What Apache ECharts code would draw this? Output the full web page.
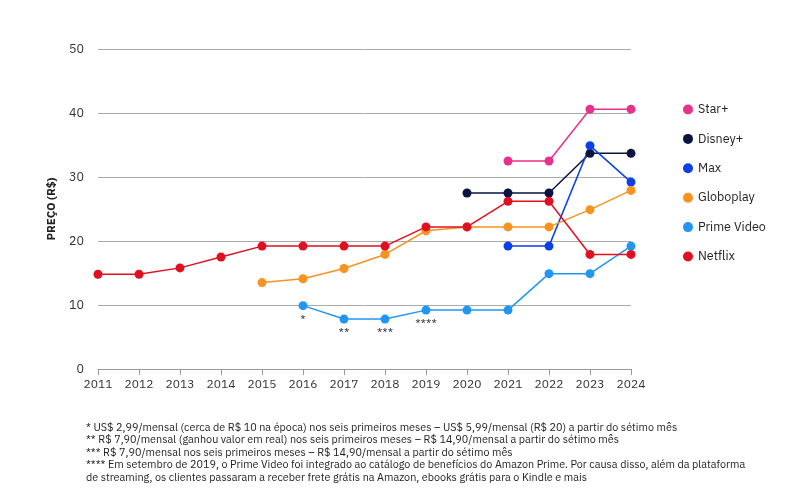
<!DOCTYPE html>
<html><head><meta charset="utf-8">
<script src="https://cdn.jsdelivr.net/npm/echarts@6/dist/echarts.min.js"></script>
<style>html,body{margin:0;padding:0;background:#fff}#c{width:800px;height:500px}</style>
</head><body><div id="c"></div>
<script>
var years = ['2011','2012','2013','2014','2015','2016','2017','2018','2019','2020','2021','2022','2023','2024'];
var starPlus   = [null,null,null,null,null,null,null,null,null,null,32.5,32.5,40.6,40.6];
var disneyPlus = [null,null,null,null,null,null,null,null,null,27.5,27.5,27.5,33.7,33.7];
var maxVals    = [null,null,null,null,null,null,null,null,null,null,19.2,19.2,34.9,29.2];
var globoplay  = [null,null,null,null,13.5,14.1,15.7,17.9,21.6,22.2,22.2,22.2,24.9,27.9];
var primeVideo = [null,null,null,null,null,9.9,7.8,7.8,9.2,9.2,9.2,14.9,14.9,19.2];
var netflix    = [14.8,14.8,15.8,17.5,19.2,19.2,19.2,19.2,22.2,22.2,26.2,26.2,17.9,17.9];
var primeMarks = [null,null,null,null,null,'*','**','***','****',null,null,null,null,null];
var yTicks = [0,10,20,30,40,50];
var footnotes = [
 '* US$ 2,99/mensal (cerca de R$ 10 na época) nos seis primeiros meses – US$ 5,99/mensal (R$ 20) a partir do sétimo mês',
 '** R$ 7,90/mensal (ganhou valor em real) nos seis primeiros meses – R$ 14,90/mensal a partir do sétimo mês',
 '*** R$ 7,90/mensal nos seis primeiros meses – R$ 14,90/mensal a partir do sétimo mês',
 '**** Em setembro de 2019, o Prime Video foi integrado ao catálogo de benefícios do Amazon Prime. Por causa disso, além da plataforma',
 'de streaming, os clientes passaram a receber frete grátis na Amazon, ebooks grátis para o Kindle e mais'
];
var FONT = '"IBM Plex Sans", "Noto Sans", sans-serif';
function mk(name, data, color) {
  return {name:name, type:'line', data:data, connectNulls:false, symbol:'circle', symbolSize:9,
    lineStyle:{width:1.5,color:color}, itemStyle:{color:color}, emphasis:{disabled:true}};
}
var prime = mk('Prime Video', primeVideo.map(function(v,i){
  return primeMarks[i] ? {value:v, label:{show:true, position:'bottom', distance:3, formatter:primeMarks[i], color:'#333', fontSize:12, fontFamily:FONT}} : v;
}), '#2196f3');
var chart = echarts.init(document.getElementById('c'), null, {renderer:'canvas'});
chart.setOption({
  animation:false,
  textStyle:{fontFamily:FONT},
  grid:{left:98, right:169, top:49, bottom:131},
  legend:{orient:'vertical', left:678, top:98, icon:'circle', itemWidth:10, itemHeight:10, itemGap:16.4,
    textStyle:{fontSize:12.5, color:'#222', fontFamily:FONT},
    data:['Star+','Disney+','Max','Globoplay','Prime Video','Netflix']},
  xAxis:{type:'category', data:years, boundaryGap:false,
    axisLine:{lineStyle:{color:'#999'}}, axisTick:{show:true, length:6, lineStyle:{color:'#999'}},
    axisLabel:{color:'#333', fontSize:12, margin:10}},
  yAxis:{type:'value', min:yTicks[0], max:yTicks[yTicks.length-1], interval:10,
    name:'PREÇO (R$)', nameLocation:'middle', nameGap:38, nameRotate:90,
    nameTextStyle:{color:'#222', fontSize:11.5, fontWeight:'bold'},
    axisLine:{show:false}, axisTick:{show:false},
    splitLine:{lineStyle:{color:'#aaa', width:1}},
    axisLabel:{color:'#333', fontSize:12.5, margin:14}},
  graphic: footnotes.map(function(t,i){
    return {type:'text', left:86, top:422+i*12.6, style:{text:t, fontSize:10.8, fill:'#222', fontFamily:FONT}};
  }),
  series:[
    mk('Star+', starPlus, '#e8318c'),
    mk('Disney+', disneyPlus, '#0b1440'),
    mk('Max', maxVals, '#0b3fe8'),
    mk('Globoplay', globoplay, '#f7931e'),
    prime,
    mk('Netflix', netflix, '#e01020')
  ]
});
</script></body></html>
